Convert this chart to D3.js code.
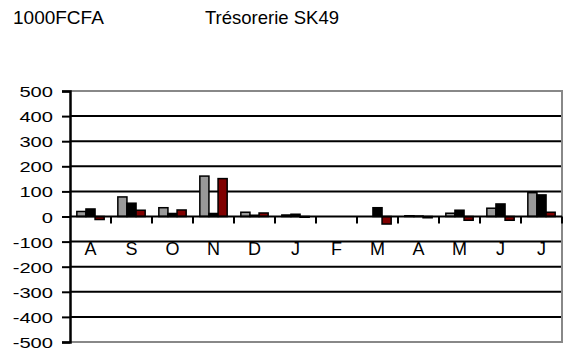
<!DOCTYPE html>
<html>
<head>
<meta charset="utf-8">
<script src="https://cdn.jsdelivr.net/npm/d3@7"></script>
<style>
  body { margin: 0; background: #fff; }
  text { font-family: "Liberation Sans", Arial, sans-serif; fill: #000; }
</style>
</head>
<body>
<div id="chart"></div>
<script>
// data
var months = ["A","S","O","N","D","J","F","M","A2","M2","J2","J3"];
var month_labels = ["A","S","O","N","D","J","F","M","A","M","J","J"];
var series = ["s1","s2","s3"];
var s1 = [20, 78, 35, 161, 17, 6, 0, 0, 3, 13, 33, 95];
var s2 = [30, 53, 12, 12, 5, 9, 0, 35, 2, 25, 50, 86];
var s3 = [-12, 25, 26, 151, 14, -3, 0, -30, -5, -15, -15, 17];
var y_ticks = [500,400,300,200,100,0,-100,-200,-300,-400,-500];
var colors = ["#999999", "#000000", "#800000"];

var chart_width = 569, chart_height = 356;
var plot_left = 70, plot_right = 562, plot_top = 91, plot_bottom = 342;

var svg = d3.select("#chart")
            .append("svg")
            .attr("width", chart_width)
            .attr("height", chart_height);

// titles
svg.append("text").attr("x", 13).attr("y", 24).attr("font-size", 19).text("1000FCFA");
svg.append("text").attr("x", 205).attr("y", 24).attr("font-size", 18.5).text("Trésorerie SK49");

var x = d3.scaleBand().domain(months).range([plot_left, plot_right]);
var x_sub = d3.scaleBand().domain(series).range([0, x.bandwidth()])
              .paddingInner(0).paddingOuter(0.75);
var y = d3.scaleLinear().domain([-500, 500]).range([plot_bottom, plot_top]);

// grid lines
svg.selectAll("line.grid")
   .data(y_ticks.filter(function(d){ return d != 500 && d != -500 && d != 0; }))
   .enter()
   .append("line")
   .attr("x1", plot_left).attr("x2", plot_right)
   .attr("y1", function(d){ return y(d); })
   .attr("y2", function(d){ return y(d); })
   .attr("stroke", "#000")
   .attr("stroke-width", 2);

// grey border
svg.append("path")
   .attr("d", "M" + plot_left + "," + y(500) + "H" + plot_right + "V" + y(-500) + "H" + plot_left)
   .attr("fill", "none")
   .attr("stroke", "#888")
   .attr("stroke-width", 2);

// bars
var table = months.map(function(m, i){
    return { m: m, vals: [s1[i], s2[i], s3[i]] };
});
var groups = svg.selectAll("g.grp")
   .data(table)
   .enter()
   .append("g")
   .attr("transform", function(d){ return "translate(" + x(d.m) + ",0)"; });
groups.selectAll("rect")
   .data(function(d){ return d.vals.map(function(v, j){ return { s: series[j], v: v, c: colors[j] }; }).filter(function(e){ return e.v != 0; }); })
   .enter()
   .append("rect")
   .attr("x", function(d){ return x_sub(d.s); })
   .attr("width", x_sub.bandwidth())
   .attr("y", function(d){ return Math.min(y(d.v), y(0)); })
   .attr("height", function(d){ return Math.abs(y(d.v) - y(0)); })
   .attr("fill", function(d){ return d.c; })
   .attr("stroke", "#000")
   .attr("stroke-width", 1.5);

// zero line with ticks at category edges
svg.append("line")
   .attr("x1", plot_left).attr("x2", plot_right)
   .attr("y1", y(0)).attr("y2", y(0))
   .attr("stroke", "#000").attr("stroke-width", 2);
var edges = months.map(function(m){ return x(m); }).concat([plot_right]);
svg.selectAll("line.xtick")
   .data(edges.slice(1))
   .enter()
   .append("line")
   .attr("x1", function(d){ return d; }).attr("x2", function(d){ return d; })
   .attr("y1", y(0)).attr("y2", y(0) + 7)
   .attr("stroke", "#000").attr("stroke-width", 2);

// category labels
svg.selectAll("text.cat")
   .data(months)
   .enter()
   .append("text")
   .attr("x", function(d){ return x(d) + x.bandwidth() / 2; })
   .attr("y", 255)
   .attr("font-size", 18)
   .attr("text-anchor", "middle")
   .text(function(d, i){ return month_labels[i]; });

// y axis
var y_axis = d3.axisLeft(y).tickValues(y_ticks).tickSize(8).tickFormat(d3.format("d"));
var ay = svg.append("g")
   .attr("transform", "translate(" + plot_left + ",0)")
   .call(y_axis);
ay.select(".domain").attr("stroke", "#000").attr("stroke-width", 2.5);
ay.selectAll(".tick line").attr("stroke", "#000").attr("stroke-width", 2);
ay.selectAll(".tick text")
   .attr("font-family", "Liberation Sans, Arial, sans-serif")
   .attr("font-size", 15.5)
   .attr("fill", "#000")
   .attr("x", 0)
   .attr("dy", "0.36em")
   .attr("transform", "translate(-17,0) scale(1.3,1)")
   .text(function(d){ return d < 0 ? "-" + Math.abs(d) : d; });
</script>
</body>
</html>
